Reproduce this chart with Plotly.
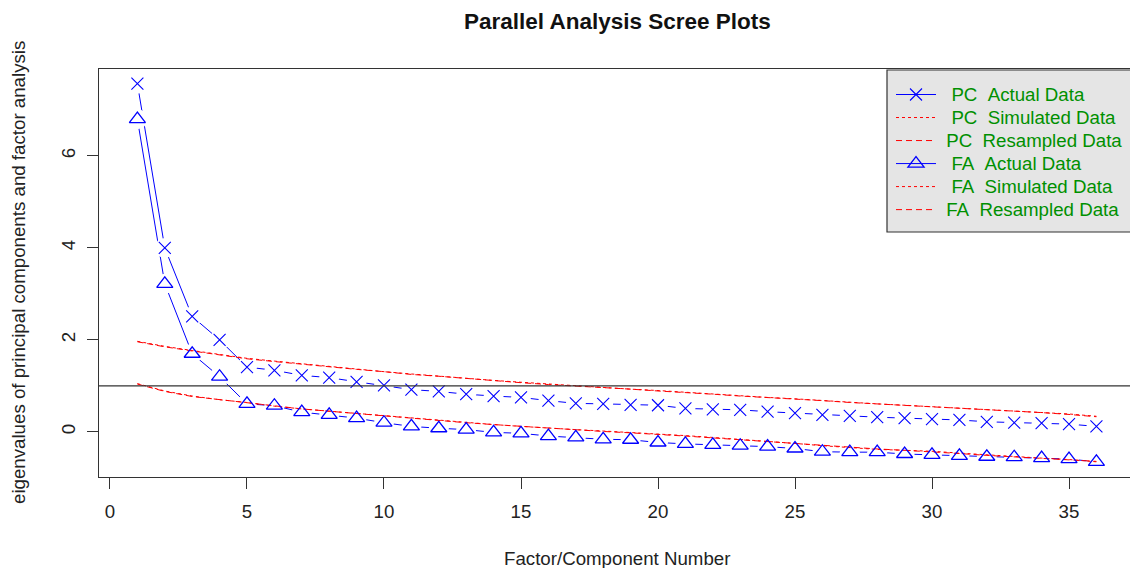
import plotly.graph_objects as go

factor_number = list(range(1, 37))
pc_actual = [7.57, 4.00, 2.51, 2.00, 1.41, 1.34, 1.23, 1.18, 1.09, 1.01, 0.92, 0.88,
             0.82, 0.78, 0.75, 0.68, 0.62, 0.61, 0.59, 0.58, 0.51, 0.49, 0.48, 0.44,
             0.41, 0.37, 0.35, 0.32, 0.30, 0.28, 0.26, 0.22, 0.20, 0.19, 0.17, 0.12]
pc_simulated = [1.97, 1.86, 1.77, 1.68, 1.60, 1.54, 1.48, 1.42, 1.37, 1.31, 1.26, 1.21,
                1.16, 1.12, 1.08, 1.04, 1.00, 0.97, 0.93, 0.90, 0.86, 0.82, 0.79, 0.75,
                0.72, 0.68, 0.65, 0.61, 0.58, 0.55, 0.52, 0.49, 0.46, 0.42, 0.39, 0.34]
pc_resampled = [1.96, 1.85, 1.76, 1.68, 1.59, 1.53, 1.47, 1.42, 1.36, 1.31, 1.25, 1.21,
                1.16, 1.11, 1.07, 1.03, 1.00, 0.96, 0.93, 0.89, 0.86, 0.82, 0.78, 0.75,
                0.71, 0.68, 0.64, 0.61, 0.58, 0.55, 0.51, 0.48, 0.45, 0.42, 0.38, 0.33]
fa_actual = [6.80, 3.22, 1.70, 1.20, 0.61, 0.57, 0.43, 0.37, 0.30, 0.20, 0.12, 0.08,
             0.05, -0.01, -0.03, -0.09, -0.12, -0.16, -0.17, -0.23, -0.26, -0.28, -0.30, -0.32,
             -0.36, -0.43, -0.44, -0.44, -0.48, -0.50, -0.52, -0.54, -0.55, -0.57, -0.59, -0.65]
fa_simulated = [1.05, 0.89, 0.78, 0.70, 0.64, 0.56, 0.50, 0.45, 0.41, 0.36, 0.30, 0.25,
                0.21, 0.16, 0.12, 0.08, 0.05, 0.02, -0.01, -0.04, -0.08, -0.12, -0.16, -0.21,
                -0.25, -0.30, -0.34, -0.38, -0.40, -0.42, -0.46, -0.50, -0.54, -0.57, -0.60, -0.65]
fa_resampled = [1.04, 0.88, 0.77, 0.70, 0.63, 0.56, 0.50, 0.45, 0.40, 0.35, 0.30, 0.24,
                0.20, 0.16, 0.12, 0.08, 0.04, 0.01, -0.02, -0.05, -0.09, -0.13, -0.17, -0.21,
                -0.26, -0.30, -0.34, -0.37, -0.40, -0.43, -0.47, -0.51, -0.54, -0.57, -0.61, -0.64]

x_ticks = [0, 5, 10, 15, 20, 25, 30, 35]
y_ticks = [0, 2, 4, 6]
labels = ["\u00a0\u00a0PC\u00a0\u00a0Actual Data", "\u00a0\u00a0PC\u00a0\u00a0Simulated Data",
          "\u00a0PC\u00a0\u00a0Resampled Data", "\u00a0\u00a0FA\u00a0\u00a0Actual Data",
          "\u00a0\u00a0FA\u00a0\u00a0Simulated Data", "\u00a0FA\u00a0\u00a0Resampled Data"]

FONT = "Liberation Sans, Arial, sans-serif"
BLUE = "#0000ff"
RED = "#ff0000"
FS = 18.7

# plot-area pixel geometry (used only to place paper-referenced decorations)
L, R, T, B = 99, 1130, 69, 477
PW, PH = R - L, B - T


def px(xp):
    return (xp - L) / PW


def py(yp):
    return (B - yp) / PH


def leg(name):
    return '<span style="font-size:18.7px">' + name + "</span>"


cross = dict(symbol="x-thin-open", size=12, color=BLUE, line=dict(color=BLUE, width=1.1))
tri = dict(symbol="triangle-up-open", size=14, color=BLUE, line=dict(color=BLUE, width=1.3))

fig = go.Figure()
fig.add_trace(go.Scatter(x=factor_number, y=pc_actual, mode="lines+markers", name=leg(labels[0]),
                         line=dict(color=BLUE, width=1), marker=cross, legendrank=1))
fig.add_trace(go.Scatter(x=factor_number, y=fa_actual, mode="lines+markers", name=leg(labels[3]),
                         line=dict(color=BLUE, width=1), marker=tri, legendrank=4))
# gaps around points (R type="b" look)
for ys in (pc_actual, fa_actual):
    fig.add_trace(go.Scatter(x=factor_number, y=ys, mode="markers", showlegend=False, hoverinfo="skip",
                             marker=dict(symbol="circle", size=20, color="white", line=dict(width=0))))
fig.add_trace(go.Scatter(x=factor_number, y=pc_simulated, mode="lines", name=leg(labels[1]),
                         line=dict(color=RED, width=1, dash="dot"), legendrank=2))
fig.add_trace(go.Scatter(x=factor_number, y=pc_resampled, mode="lines", name=leg(labels[2]),
                         line=dict(color=RED, width=1, dash="6px,4px"), legendrank=3))
fig.add_trace(go.Scatter(x=factor_number, y=fa_simulated, mode="lines", name=leg(labels[4]),
                         line=dict(color=RED, width=1, dash="dot"), legendrank=5))
fig.add_trace(go.Scatter(x=factor_number, y=fa_resampled, mode="lines", name=leg(labels[5]),
                         line=dict(color=RED, width=1, dash="6px,4px"), legendrank=6))
fig.add_trace(go.Scatter(x=factor_number, y=pc_actual, mode="markers", showlegend=False, marker=cross))
fig.add_trace(go.Scatter(x=factor_number, y=fa_actual, mode="markers", showlegend=False, marker=tri))

fig.add_hline(y=1, line=dict(color="#333333", width=1.2), layer="above")
# legend box
fig.add_shape(type="rect", xref="paper", yref="paper", x0=px(887), x1=px(1145), y0=py(232), y1=py(70),
              fillcolor="#e5e5e5", line=dict(color="#333333", width=1.2), layer="below")

fig.update_layout(
    width=1130, height=568,
    margin=dict(l=L, r=1130 - R, t=T, b=568 - B),
    paper_bgcolor="white", plot_bgcolor="white",
    font=dict(family=FONT, size=FS, color="#222222"),
    showlegend=True,
    legend=dict(x=px(891), y=py(78), xanchor="left", yanchor="top", bgcolor="rgba(0,0,0,0)",
                borderwidth=0,
                font=dict(family=FONT, size=15.4, color="#009000"),
                itemwidth=40, tracegroupgap=0),
    xaxis=dict(range=[-0.401, 37.226], tickvals=x_ticks, ticks="outside", ticklen=11,
               tickcolor="#333333", showgrid=False, zeroline=False, showline=True,
               linecolor="#333333", linewidth=1.2, mirror=True, ticklabelstandoff=6,
               tickfont=dict(family=FONT, size=FS, color="#222222")),
    yaxis=dict(range=[-0.98, 7.89], tickvals=y_ticks, ticks="outside", ticklen=11,
               tickcolor="#333333", showgrid=False, zeroline=False, showline=True,
               linecolor="#333333", linewidth=1.2, mirror=False, tickangle=-90, ticklabelstandoff=4,
               tickfont=dict(family=FONT, size=FS, color="#222222")),
    annotations=[
        dict(text="<b>Parallel Analysis Scree Plots</b>", xref="paper", yref="paper",
             x=px(617), y=py(22), xanchor="center", yanchor="middle",
             showarrow=False, font=dict(family=FONT, size=22.5, color="#111111")),
        dict(text="Factor/Component Number", xref="paper", yref="paper",
             x=px(617), y=py(558), xanchor="center", yanchor="middle",
             showarrow=False, font=dict(family=FONT, size=FS, color="#222222")),
        dict(text="eigenvalues of principal components and factor analysis", xref="paper", yref="paper",
             x=px(18), y=py(273), xanchor="center", yanchor="middle", textangle=-90,
             showarrow=False, font=dict(family=FONT, size=FS, color="#222222")),
    ],
)

fig.write_html("out.html")
